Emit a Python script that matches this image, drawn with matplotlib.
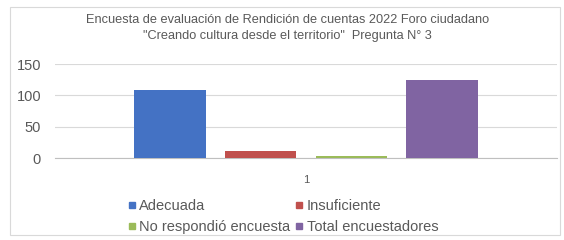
import matplotlib.pyplot as plt
from matplotlib.lines import Line2D
from matplotlib.patches import Rectangle

plt.rcParams['font.family'] = ['Liberation Sans', 'DejaVu Sans']

categories = ["1"]
series = ["Adecuada", "Insuficiente", "No respondió encuesta", "Total encuestadores"]
values = [108, 11, 3, 124]
colors = ["#4472C4", "#C0504D", "#9BBB59", "#8064A2"]
yticks = [0, 50, 100, 150]

fig = plt.figure(figsize=(5.64, 2.4), dpi=100)
fig.patches.append(Rectangle((10 / 564, 5 / 240), 550 / 564, 228 / 240,
                             transform=fig.transFigure, fill=False,
                             edgecolor="#d9d9d9", linewidth=0.8))
ax = fig.add_axes([55 / 564, 82 / 240, 502 / 564, 94 / 240])

step = 0.181
width = 0.143
for i, (name, v, c) in enumerate(zip(series, values, colors)):
    ax.bar(0 + (i - 1.5) * step, v, width=width, color=c, label=name, zorder=3)

ax.set_xlim(-0.5, 0.5)
ax.set_ylim(0, 150)
ax.set_yticks(yticks)
ax.set_xticks([0])
ax.set_xticklabels(categories)
ax.grid(axis="y", color="#d9d9d9", linewidth=0.8, zorder=0)
for s in ["top", "right", "left"]:
    ax.spines[s].set_visible(False)
ax.spines["bottom"].set_color("#bfbfbf")
ax.tick_params(axis="y", length=0, labelsize=10.5, colors="#595959", pad=10)
ax.tick_params(axis="x", length=0, labelsize=8, colors="#595959", pad=12)

fig.text(0.51, 0.917, "Encuesta de evaluación de Rendición de cuentas 2022 Foro ciudadano",
         ha="center", va="center", fontsize=9.2, color="#595959")
fig.text(0.51, 0.852, "\"Creando cultura desde el territorio\"  Pregunta N° 3",
         ha="center", va="center", fontsize=9.2, color="#595959")

# column-wise fill: Adecuada / No respondió in first column
order = [0, 2, 1, 3]
handles = [Line2D([], [], marker="s", linestyle="", markersize=4.5, color=colors[k]) for k in order]
labels = [series[k] for k in order]
fig.legend(handles, labels, ncol=2, loc="upper left", bbox_to_anchor=(119 / 564, 48 / 240),
           frameon=False, fontsize=10.5, labelcolor="#595959", handletextpad=0.1,
           columnspacing=0.2, handlelength=0.8, borderpad=0, labelspacing=0.45)

fig.savefig("out.png", dpi=100)
